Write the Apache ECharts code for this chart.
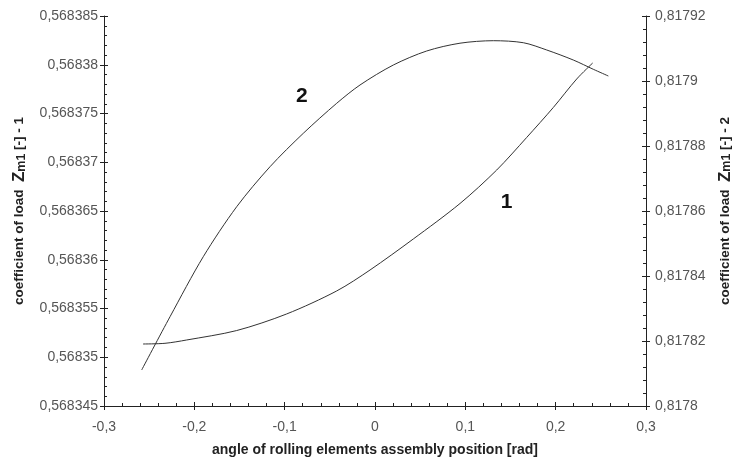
<!DOCTYPE html>
<html><head><meta charset="utf-8">
<script src="https://cdn.jsdelivr.net/npm/echarts@6/dist/echarts.min.js"></script>
<style>html,body{margin:0;padding:0;background:#fff}#c{width:733px;height:467px}</style>
</head><body><div id="c"></div>
<script>
// Curve 1 (left axis)
const curve1X = [-0.2568,-0.2325,-0.2085,-0.1531,-0.0978,-0.0424,-0.0055,0.0424,0.0941,0.1347,0.1679,0.1974,0.2233,0.241];
const curve1Y = [0.56835136,0.56835143,0.56835177,0.56835274,0.56835444,0.5683568,0.56835895,0.56836213,0.56836577,0.5683692,0.56837254,0.56837562,0.56837854,0.56838018];
// Curve 2 (right axis)
const curve2X = [-0.2583,-0.2269,-0.1901,-0.1531,-0.1162,-0.0794,-0.0424,-0.0166,0.0203,0.0572,0.0941,0.131,0.1642,0.1901,0.2195,0.2417,0.2583];
const curve2Y = [0.81781108,0.81782748,0.81784594,0.81786132,0.81787363,0.8178839,0.81789314,0.81789877,0.81790492,0.81790923,0.81791163,0.8179124,0.81791178,0.81790954,0.81790646,0.8179036,0.81790154];
// Curve labels
const label1 = {text:'1', x:0.1458, y:0.56836595};
const label2 = {text:'2', x:-0.0811, y:0.81789517};
// Axis ranges
const xRange = {min:-0.3, max:0.3, interval:0.1};
const yLeftRange = {min:0.568345, max:0.568385, interval:0.000005};
const yRightRange = {min:0.8178, max:0.81792, interval:0.00002};
const xName = 'angle of rolling elements assembly position [rad]';

function fmt(v, d){
  let s = v.toFixed(d);
  if (s.indexOf('.')>=0){ s = s.replace(/0+$/,'').replace(/\.$/,''); }
  if (s === '-0') s = '0';
  return s.replace('.', ',');
}
const lineCol = '#222';
const labelStyle = {color:'#555', fontFamily:'Liberation Sans', fontSize:14};
const nameRich = {
  b:{fontFamily:'Liberation Sans', fontWeight:'bold', fontSize:13.5, color:'#222'},
  z:{fontFamily:'Liberation Sans', fontWeight:'bold', fontSize:17, color:'#222'},
  s:{fontFamily:'Liberation Sans', fontWeight:'bold', fontSize:12.5, color:'#222', padding:[4,0,0,0]}
};

const chart = echarts.init(document.getElementById('c'));
const baseY = (r, pos, dec, show, margin) => ({
  type:'value', position:pos, min:r.min, max:r.max, interval:r.interval,
  splitLine:{show:false},
  axisLine:{show:show, onZero:false, lineStyle:{color:lineCol, width:1}},
  axisTick:{show:true, inside:show, length:4, lineStyle:{color:lineCol}},
  minorTick:{show:show, splitNumber:5, length:3, lineStyle:{color:lineCol}},
  axisLabel:show ? Object.assign({formatter:v=>fmt(v,dec), margin:margin}, labelStyle) : {show:false}
});
const yL = baseY(yLeftRange,'left',6,true,6);
yL.name = '{b|coefficient of load  }{z|Z}{s|m1}{b| [-] - 1}';
yL.nameLocation='middle'; yL.nameRotate=90; yL.nameGap=76;
yL.nameTextStyle={rich:nameRich};
const yR = baseY(yRightRange,'right',5,true,9);
yR.name = '{b|coefficient of load  }{z|Z}{s|m1}{b| [-] - 2}';
yR.nameLocation='middle'; yR.nameRotate=90; yR.nameGap=70;
yR.nameTextStyle={rich:nameRich};
const yL2 = baseY(yLeftRange,'left',6,false,0);
const yR2 = baseY(yRightRange,'right',5,false,0);

const baseX = (show) => ({
  type:'value', position:'bottom', min:xRange.min, max:xRange.max, interval:xRange.interval,
  splitLine:{show:false},
  axisLine:{show:show, onZero:false, lineStyle:{color:lineCol, width:1}},
  axisTick:{show:true, inside:show, length:4, lineStyle:{color:lineCol}},
  minorTick:{show:show, splitNumber:5, length:3, lineStyle:{color:lineCol}},
  axisLabel:show ? Object.assign({formatter:v=>fmt(v,1), margin:14}, labelStyle) : {show:false}
});
const xA = baseX(true);
xA.name = xName; xA.nameLocation='middle'; xA.nameGap=37;
xA.nameTextStyle={fontFamily:'Liberation Sans', fontWeight:'bold', fontSize:14, color:'#222'};
const xB = baseX(false);

const lblStyle = {fontFamily:'Liberation Sans', fontWeight:'bold', fontSize:21, color:'#111'};
chart.setOption({
  animation:false,
  backgroundColor:'#fff',
  grid:{left:104, right:87, top:16, bottom:61, containLabel:false, outerBoundsMode:'none'},
  xAxis:[xA, xB],
  yAxis:[yL, yR, yL2, yR2],
  series:[
    {type:'line', xAxisIndex:0, yAxisIndex:0, data:curve1X.map((x,i)=>[x,curve1Y[i]]),
     smooth:0.3, showSymbol:false, symbol:'none', lineStyle:{color:'#333', width:1},
     markPoint:{symbol:'circle', symbolSize:0, label:Object.assign({show:true, formatter:label1.text, position:'inside'}, lblStyle),
       data:[{coord:[label1.x, label1.y]}]}},
    {type:'line', xAxisIndex:0, yAxisIndex:1, data:curve2X.map((x,i)=>[x,curve2Y[i]]),
     smooth:0.3, showSymbol:false, symbol:'none', lineStyle:{color:'#333', width:1},
     markPoint:{symbol:'circle', symbolSize:0, label:Object.assign({show:true, formatter:label2.text, position:'inside'}, lblStyle),
       data:[{coord:[label2.x, label2.y]}]}}
  ]
});
</script></body></html>
